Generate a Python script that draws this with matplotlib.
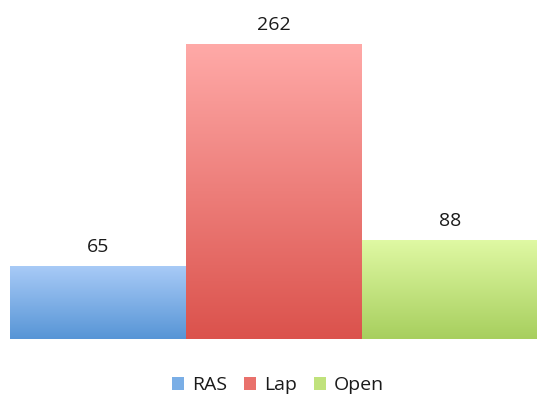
import matplotlib
matplotlib.use("Agg")
import matplotlib.pyplot as plt
import numpy as np
from matplotlib.colors import LinearSegmentedColormap
from matplotlib.patches import Patch

categories = ["RAS", "Lap", "Open"]
values = [65, 262, 88]
top_colors = ["#a9cbf7", "#ffaaa8", "#e0f9a4"]
bottom_colors = ["#5795d6", "#db524c", "#a7cf5e"]
mid_colors = ["#7aaee6", "#e9716c", "#c0e27c"]

plt.rcParams['font.family'] = ['Open Sans', 'DejaVu Sans']

fig = plt.figure(figsize=(5.37, 4.0), dpi=100)
ax = fig.add_axes([10/537, 61/400, 528/537, 339/400])

x = np.arange(len(categories))
bars = ax.bar(x, values, width=1.0, color=mid_colors, edgecolor='none')

grad = np.linspace(0, 1, 256).reshape(-1, 1)
for i, b in enumerate(bars):
    cmap = LinearSegmentedColormap.from_list(f"g{i}", [bottom_colors[i], top_colors[i]])
    x0 = b.get_x()
    im = ax.imshow(grad, extent=[x0, x0 + b.get_width(), 0, b.get_height()],
                   origin='lower', aspect='auto', cmap=cmap, zorder=3)
    im.set_clip_path(b)
    ax.text(b.get_x() + b.get_width()/2, b.get_height() + 12.5, str(values[i]),
            ha='center', va='baseline', fontsize=14, color='#1a1a1a')

ax.set_xlim(-0.5, 2.5)
ax.set_ylim(0, 301)
ax.axis('off')

handles = [Patch(facecolor=mid_colors[i], edgecolor='none') for i in range(3)]
leg = fig.legend(handles, categories, loc='center', bbox_to_anchor=(0.518, 0.037), ncol=3,
                 frameon=False, fontsize=14, handlelength=0.6, handleheight=0.7,
                 handletextpad=0.4, columnspacing=0.9)
for t in leg.get_texts():
    t.set_color('#1a1a1a')

fig.savefig("out.png", dpi=100)
